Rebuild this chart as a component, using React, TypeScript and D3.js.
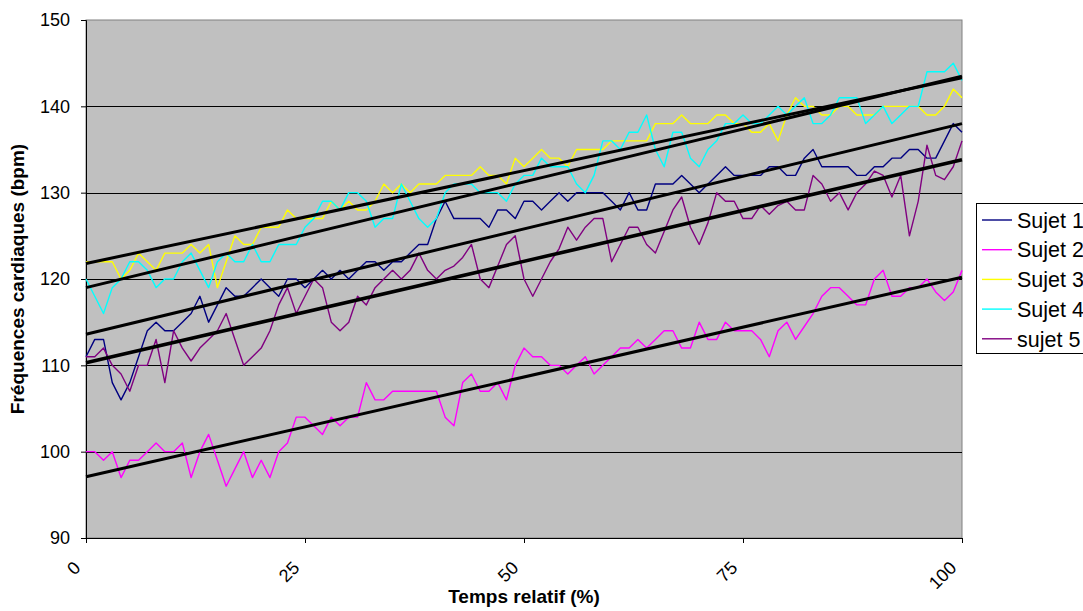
import React, { useEffect, useRef } from 'react';
import * as d3 from 'd3';

// relative time in %, one reading per percent
const temps = d3.range(0, 101);

const sujet1 = [
  111, 113, 113, 108, 106, 108, 111, 114, 115, 114, 114, 115, 116, 118, 115, 117, 119, 118, 118, 119, 120,
  119, 118, 120, 120, 119, 120, 121, 120, 121, 120, 121, 122, 122, 121, 122, 122, 123, 124, 124, 127,
  129, 127, 127, 127, 127, 126, 128, 128, 127, 129, 129, 128, 129, 130, 129, 130, 130, 130, 130, 129,
  128, 130, 128, 128, 131, 131, 131, 132, 131, 130, 131, 132, 133, 132, 132, 132, 132, 133, 133, 132,
  132, 134, 135, 133, 133, 133, 133, 132, 132, 133, 133, 134, 134, 135, 135, 134, 134, 136, 138, 137,
];
const sujet2 = [
  100, 100, 99, 100, 97, 99, 99, 100, 101, 100, 100, 101, 97, 100, 102, 99, 96, 98, 100, 97, 99,
  97, 100, 101, 104, 104, 103, 102, 104, 103, 104, 104, 108, 106, 106, 107, 107, 107, 107, 107, 107,
  104, 103, 108, 109, 107, 107, 108, 106, 110, 112, 111, 111, 110, 110, 109, 110, 111, 109, 110, 111,
  112, 112, 113, 112, 113, 114, 114, 112, 112, 115, 113, 113, 115, 114, 114, 114, 113, 111, 114, 115,
  113, 114.5, 116, 118, 119, 119, 118, 117, 117, 120, 121, 118, 118, 119, 119, 120, 118.5, 117.5, 118.5, 121,
];
const sujet3 = [
  122, 122, 122, 122, 120, 121, 123, 122, 121, 123, 123, 123, 124, 123, 124, 119, 122, 125, 124, 124, 126,
  126, 126, 128, 127, 127, 127, 127, 129, 128, 129, 128, 128, 129, 131, 130, 131, 130, 131, 131, 131,
  132, 132, 132, 132, 133, 132, 132, 131, 134, 133, 134, 135, 134, 134, 133, 135, 135, 135, 135, 136,
  136, 136, 136, 136, 138, 138, 138, 139, 138, 138, 138, 139, 139, 138, 138, 137, 137, 138, 136, 139,
  141, 140, 140, 139, 139, 140, 140, 139, 139, 139, 140, 140, 140, 140, 140, 139, 139, 140, 142, 141,
];
const sujet4 = [
  120, 118, 116, 119, 120, 122, 122, 121, 119, 120, 120, 122, 123, 121, 119, 122, 123, 122, 122, 124, 122,
  122, 124, 124, 124, 126, 127, 129, 129, 128, 130, 130, 129, 126, 127, 127, 131, 129, 127, 126, 127,
  130, 131, 131, 131, 130, 130, 130, 129, 131, 132, 132, 134, 133, 133, 133, 131, 130, 132, 136, 136,
  135, 137, 137, 139, 135, 133, 137, 137, 134, 133, 135, 136, 138, 138, 139, 138, 138, 139, 140, 139,
  140, 141, 138, 138, 139, 141, 141, 141, 138, 139, 140, 138, 139, 140, 140, 144, 144, 144, 145, 143,
];
const sujet5 = [
  111, 111, 112, 110, 109, 107, 110, 110, 113, 108, 114, 112, 110.5, 112, 113, 114, 116, 113, 110, 111, 112,
  114, 117, 119, 116, 118, 120, 119, 115, 114, 115, 118, 117, 119, 120, 121, 120, 121, 123, 121, 120,
  121, 121.5, 122.5, 124, 120, 119, 121.5, 124, 125, 120, 118, 120, 122, 123.5, 126, 124.5, 126, 127, 127, 122,
  124, 126, 126, 124, 123, 125.5, 128, 129.5, 126, 124, 126.5, 130, 129, 129, 127, 127, 128.5, 127.5, 128.5, 129,
  128, 128, 132, 131, 129, 130, 128, 130, 131, 132.5, 132, 129.5, 132, 125, 129, 135.5, 132, 131.5, 133, 136,
];

const noms = ['Sujet 1', 'Sujet 2', 'Sujet 3', 'Sujet 4', 'sujet 5'];
const couleurs = ['#000080', '#FF00FF', '#FFFF00', '#00FFFF', '#800080'];

// linear trend lines, value at 0 % and at 100 %
const tendanceDebut = [113.6, 97.1, 121.8, 119.0, 110.3];
const tendanceFin = [138.0, 120.2, 143.3, 143.5, 133.8];

const yTicks = [90, 100, 110, 120, 130, 140, 150];
const xTicks = [0, 25, 50, 75, 100];

const FONT = '"Liberation Sans", Arial, sans-serif';

const App = () => {
  const ref = useRef<SVGSVGElement>(null);

  useEffect(() => {
    const svg = d3.select(ref.current);
    svg.selectAll('*').remove();

    const width = 1083;
    const height = 611;
    const margin = { top: 20, right: 121, bottom: 73, left: 86 };

    const x = d3.scaleLinear().domain([0, 100]).range([margin.left, width - margin.right]);
    const y = d3.scaleLinear().domain([90, 150]).range([height - margin.bottom, margin.top]);

    svg.append('rect')
      .attr('width', width).attr('height', height).attr('fill', '#ffffff');

    // plot area
    svg.append('rect')
      .attr('x', x(0)).attr('y', y(150))
      .attr('width', x(100) - x(0)).attr('height', y(90) - y(150))
      .attr('fill', '#C0C0C0')
      .attr('stroke', '#808080').attr('stroke-width', 1);

    // grid
    svg.append('g')
      .selectAll('line')
      .data(yTicks.filter(d => d > 90 && d < 150))
      .enter().append('line')
        .attr('x1', x(0)).attr('x2', x(100))
        .attr('y1', d => Math.round(y(d)) + 0.5).attr('y2', d => Math.round(y(d)) + 0.5)
        .attr('stroke', '#000').attr('stroke-width', 1);

    // y axis
    const yAxis = d3.axisLeft(y).tickValues(yTicks).tickSize(5).tickPadding(11);
    const gy = svg.append('g')
      .attr('transform', `translate(${x(0)},0)`)
      .call(yAxis);
    gy.select('.domain').attr('stroke', '#000');
    gy.selectAll('text')
      .style('font-family', FONT).style('font-size', '18px').attr('fill', '#000');

    // x axis
    const xAxis = d3.axisBottom(x).tickValues(xTicks).tickSize(5).tickFormat(() => '');
    const gx = svg.append('g')
      .attr('transform', `translate(0,${y(90)})`)
      .call(xAxis);
    gx.select('.domain').attr('stroke', '#000');

    svg.append('g')
      .selectAll('text')
      .data(xTicks)
      .enter().append('text')
        .attr('transform', d => `translate(${x(d) - 4.5},569) rotate(-45)`)
        .attr('text-anchor', 'end')
        .style('font-family', FONT).style('font-size', '18px')
        .text(d => d);

    // series
    const series = [sujet1, sujet2, sujet3, sujet4, sujet5];
    const line = d3.line<number>()
      .x((d, i) => x(temps[i]))
      .y(d => y(d));

    svg.append('g')
      .selectAll('path')
      .data(series)
      .enter().append('path')
        .attr('d', d => line(d))
        .attr('fill', 'none')
        .attr('stroke', (d, i) => couleurs[i])
        .attr('stroke-width', 1.4)
        .attr('stroke-linejoin', 'round');

    // trend lines
    svg.append('g')
      .selectAll('line')
      .data(tendanceDebut)
      .enter().append('line')
        .attr('x1', x(0)).attr('x2', x(100))
        .attr('y1', d => y(d))
        .attr('y2', (d, i) => y(tendanceFin[i]))
        .attr('stroke', '#000')
        .attr('stroke-width', (d, i) => (i === 4 ? 3.6 : 3));

    // axis titles
    svg.append('text')
      .attr('x', (x(0) + x(100)) / 2).attr('y', 603)
      .attr('text-anchor', 'middle')
      .style('font-family', FONT).style('font-size', '19px').style('font-weight', 'bold')
      .text('Temps relatif (%)');

    svg.append('text')
      .attr('transform', `translate(24,${(y(90) + y(150)) / 2}) rotate(-90)`)
      .attr('text-anchor', 'middle')
      .style('font-family', FONT).style('font-size', '19px').style('font-weight', 'bold')
      .text('Fréquences cardiaques (bpm)');

    // legend (runs past the right edge, as in the original)
    const legend = svg.append('g').attr('transform', 'translate(976,203)');
    legend.append('rect')
      .attr('x', 0.5).attr('y', 0.5).attr('width', 140).attr('height', 150)
      .attr('fill', '#fff').attr('stroke', '#000');
    const item = legend.selectAll('g.item')
      .data(noms)
      .enter().append('g')
        .attr('class', 'item')
        .attr('transform', (d, i) => `translate(0,${17 + i * 29.7})`);
    item.append('line')
      .attr('x1', 6).attr('x2', 36)
      .attr('stroke', (d, i) => couleurs[i]).attr('stroke-width', 1.4);
    item.append('text')
      .attr('x', 41).attr('dy', '0.36em')
      .style('font-family', FONT).style('font-size', '21.5px')
      .text(d => d);
  }, []);

  return (
    <div style={{ position: 'absolute', left: 0, top: 0 }}>
      <svg ref={ref} width="1083" height="611" style={{ display: 'block' }}></svg>
    </div>
  );
};

export default App;
